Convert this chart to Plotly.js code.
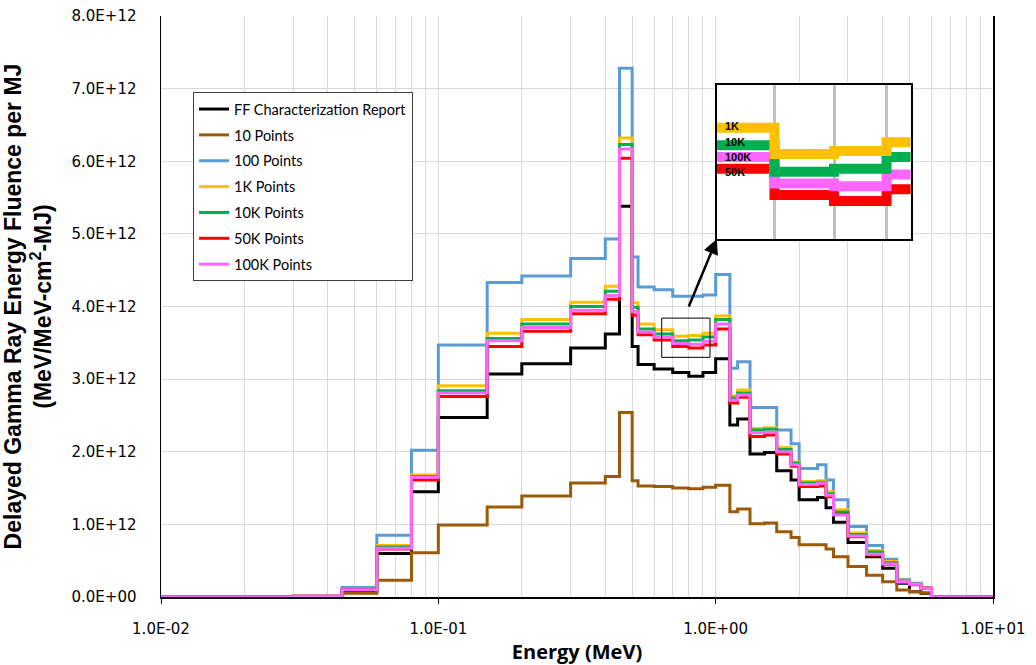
<!DOCTYPE html>
<html>
<head>
<meta charset="utf-8">
<script src="https://cdn.plot.ly/plotly-3.0.1.min.js"></script>
<style>
html,body{margin:0;padding:0;background:#fff;}
#chart{width:1036px;height:665px;}
</style>
</head>
<body>
<div id="chart"></div>
<script>
// Energy group boundaries (MeV)
const energyEdges = [0.01, 0.03, 0.045, 0.06, 0.08, 0.1, 0.15, 0.2, 0.3, 0.4, 0.45, 0.5, 0.525, 0.6, 0.7, 0.8, 0.9, 1.0,
  1.125, 1.2, 1.33, 1.5, 1.66, 1.87, 2.0, 2.33, 2.5, 2.66, 3.0, 3.5, 4.0, 4.5, 5.0, 5.5, 6.0, 10];

// Group values, in units of 1E+12 MeV/MeV-cm2-MJ
const ffReport = [0, 0.005, 0.073, 0.60, 1.45, 2.47, 3.07, 3.21, 3.43, 3.62, 5.38, 3.45, 3.20, 3.14, 3.09, 3.04, 3.09, 3.28,
  2.37, 2.45, 1.97, 1.99, 1.74, 1.61, 1.34, 1.37, 1.23, 1.03, 0.75, 0.555, 0.395, 0.19, 0.073, 0.05, 0];
const points10 = [0, 0.005, 0.05, 0.23, 0.61, 0.99, 1.24, 1.39, 1.57, 1.66, 2.54, 1.60, 1.53, 1.52, 1.50, 1.49, 1.51, 1.54,
  1.175, 1.21, 1.01, 1.02, 0.90, 0.82, 0.72, 0.72, 0.66, 0.555, 0.42, 0.30, 0.21, 0.096, 0.073, 0.06, 0];
const points100 = [0, 0.01, 0.13, 0.85, 2.02, 3.47, 4.33, 4.42, 4.66, 4.93, 7.28, 4.68, 4.27, 4.23, 4.14, 4.14, 4.16, 4.44,
  3.15, 3.24, 2.61, 2.61, 2.30, 2.11, 1.77, 1.82, 1.61, 1.34, 0.97, 0.71, 0.52, 0.24, 0.19, 0.13, 0];
const points1K = [0, 0.01, 0.105, 0.71, 1.68, 2.91, 3.63, 3.82, 4.06, 4.28, 6.32, 4.05, 3.76, 3.68, 3.59, 3.60, 3.63, 3.87,
  2.77, 2.85, 2.32, 2.33, 2.06, 1.86, 1.59, 1.60, 1.45, 1.20, 0.88, 0.64, 0.49, 0.23, 0.18, 0.13, 0];
const points10K = [0, 0.01, 0.105, 0.69, 1.66, 2.84, 3.56, 3.76, 4.00, 4.21, 6.23, 3.99, 3.69, 3.62, 3.53, 3.54, 3.58, 3.82,
  2.74, 2.81, 2.30, 2.31, 2.03, 1.84, 1.57, 1.58, 1.42, 1.17, 0.86, 0.62, 0.47, 0.22, 0.18, 0.125, 0];
const points50K = [0, 0.01, 0.10, 0.66, 1.61, 2.76, 3.45, 3.66, 3.90, 4.10, 6.04, 3.88, 3.61, 3.54, 3.45, 3.43, 3.47, 3.69,
  2.67, 2.75, 2.21, 2.23, 1.97, 1.80, 1.52, 1.53, 1.38, 1.14, 0.83, 0.58, 0.45, 0.20, 0.17, 0.12, 0];
const points100K = [0, 0.01, 0.10, 0.67, 1.65, 2.81, 3.53, 3.71, 3.95, 4.15, 6.17, 3.93, 3.65, 3.58, 3.49, 3.48, 3.52, 3.76,
  2.71, 2.78, 2.26, 2.27, 2.00, 1.82, 1.55, 1.57, 1.40, 1.13, 0.84, 0.59, 0.455, 0.21, 0.175, 0.12, 0];
const UNIT = 1e12;

const seriesNames = ['FF Characterization Report', '10 Points', '100 Points', '1K Points', '10K Points', '50K Points', '100K Points'];
const seriesValues = [ffReport, points10, points100, points1K, points10K, points50K, points100K];
const seriesColors = ['#000000', '#9a5a08', '#5b9bd5', '#ffc000', '#00b050', '#ff0000', '#ff66ff'];

// Axis ticks
const xTickVals = [0.01, 0.1, 1, 10];
const xTickLabels = ['1.0E-02', '1.0E-01', '1.0E+00', '1.0E+01'];
const yTickVals = [0, 1, 2, 3, 4, 5, 6, 7, 8];
const yTickLabels = ['0.0E+00', '1.0E+12', '2.0E+12', '3.0E+12', '4.0E+12', '5.0E+12', '6.0E+12', '7.0E+12', '8.0E+12'];

// Inset (magnified view) settings
const insetSeries = ['50K', '100K', '10K', '1K'];
const insetValues = [points50K, points100K, points10K, points1K];
const insetColors = ['#ff0000', '#ff66ff', '#00b050', '#ffc000'];
const insetLabelShift = [-3, 0, 3, 2];
const insetLabelBin = 13;
const insetRangeE = [0.615, 0.95];
const insetRangeV = [3.30, 3.825];
const insetGridE = [0.7, 0.8, 0.9];
const zoomBoxE = [0.639, 0.954];
const zoomBoxV = [3.30, 3.84];

function stepY(vals) {
  return vals.concat([vals[vals.length - 1]]).map(v => v * UNIT);
}

const traces = [];
seriesNames.forEach((name, i) => {
  traces.push({
    type: 'scatter', mode: 'lines', name: name,
    x: energyEdges, y: stepY(seriesValues[i]),
    line: {shape: 'hv', color: seriesColors[i], width: 3},
    legendgroup: 'g' + i,
    hoverinfo: 'skip'
  });
});
insetSeries.forEach((name, i) => {
  traces.push({
    type: 'scatter', mode: 'lines', name: name, showlegend: false,
    x: energyEdges, y: stepY(insetValues[i]),
    xaxis: 'x2', yaxis: 'y2',
    line: {shape: 'hv', color: insetColors[i], width: 10},
    hoverinfo: 'skip'
  });
});

const minorVals = [];
for (let d = -2; d < 1; d++) {
  for (let k = 2; k <= 9; k++) minorVals.push(k * Math.pow(10, d));
}

const annotations = insetSeries.map((name, i) => ({
  xref: 'x2 domain', yref: 'y2', x: 0.035, y: insetValues[i][insetLabelBin] * UNIT,
  yshift: insetLabelShift[i], borderpad: 0,
  xanchor: 'left', yanchor: 'middle', text: name, showarrow: false,
  font: {family: 'Liberation Sans', size: 11, color: '#000', weight: 'bold'}
}));
annotations.push({
  xref: 'x2 domain', yref: 'y2 domain', x: 0, y: 0,
  ax: -32, ay: 77, axref: 'pixel', ayref: 'pixel',
  showarrow: true, arrowhead: 2, arrowsize: 1.2, arrowwidth: 2.5, arrowcolor: '#000', text: ' ', standoff: 0
});

const layout = {
  width: 1036, height: 665,
  margin: {l: 161, r: 43, t: 16, b: 68},
  paper_bgcolor: '#ffffff', plot_bgcolor: '#ffffff',
  font: {family: 'DejaVu Sans', size: 15, color: '#000'},
  showlegend: true,
  legend: {
    x: 0.0385, y: 0.869, xanchor: 'left', yanchor: 'top',
    bgcolor: '#ffffff', bordercolor: '#404040', borderwidth: 1,
    font: {family: 'Lato', size: 14.5, color: '#000'},
    traceorder: 'grouped', tracegroupgap: 4
  },
  xaxis: {
    type: 'log', range: [-2, 1], domain: [0, 1],
    tickmode: 'array', tickvals: xTickVals, ticktext: xTickLabels,
    ticks: 'outside', ticklen: 5, tickcolor: '#000', ticklabelstandoff: 12,
    showgrid: true, gridcolor: '#d9d9d9', gridwidth: 1,
    minor: {tickmode: 'array', tickvals: minorVals, showgrid: true, gridcolor: '#d9d9d9', gridwidth: 1, ticks: ''},
    showline: true, linecolor: '#000', linewidth: 1.5, zeroline: false,
    tickfont: {family: 'DejaVu Sans', size: 15, color: '#000'},
    title: {text: 'Energy (MeV)', font: {family: 'Open Sans', size: 20, color: '#000', weight: 'bold'}, standoff: 10},
    automargin: false
  },
  yaxis: {
    range: [0, 8 * UNIT], domain: [0, 1],
    tickmode: 'array', tickvals: yTickVals.map(v => v * UNIT), ticktext: yTickLabels,
    ticks: '', ticklabelstandoff: 20,
    showgrid: true, gridcolor: '#d9d9d9', gridwidth: 1,
    showline: true, linecolor: '#000', linewidth: 1.5, mirror: true, zeroline: false,
    tickfont: {family: 'DejaVu Sans', size: 15, color: '#000'},
    title: {text: 'Delayed Gamma Ray Energy Fluence per MJ<br>(MeV/MeV-cm<sup>2</sup>-MJ)',
      font: {family: 'Liberation Sans', size: 23, color: '#000', weight: 'bold'}, standoff: 20},
    automargin: false
  },
  xaxis2: {
    type: 'log', domain: [0.668, 0.901], anchor: 'y2',
    range: [Math.log10(insetRangeE[0]), Math.log10(insetRangeE[1])],
    tickmode: 'array', tickvals: insetGridE, showticklabels: false, ticks: '',
    showgrid: true, gridcolor: '#c0c0c0', gridwidth: 3,
    showline: true, linecolor: '#000', linewidth: 2, mirror: true, zeroline: false
  },
  yaxis2: {
    domain: [0.616, 0.881], anchor: 'x2',
    range: [insetRangeV[0] * UNIT, insetRangeV[1] * UNIT],
    showgrid: false, showticklabels: false, ticks: '',
    showline: true, linecolor: '#000', linewidth: 2, mirror: true, zeroline: false
  },
  shapes: [{
    type: 'rect', xref: 'x', yref: 'y',
    x0: zoomBoxE[0], x1: zoomBoxE[1], y0: zoomBoxV[0] * UNIT, y1: zoomBoxV[1] * UNIT,
    line: {color: '#000', width: 1}
  }],
  annotations: annotations
};

Plotly.newPlot('chart', traces, layout, {staticPlot: true, displayModeBar: false});
</script>
</body>
</html>
